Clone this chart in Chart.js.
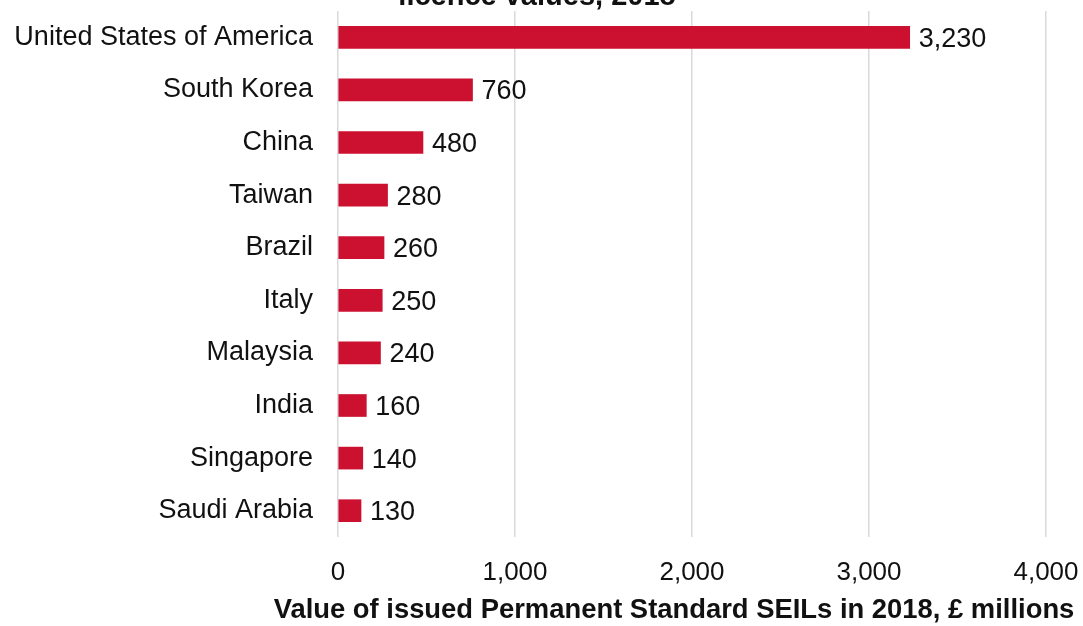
<!DOCTYPE html>
<html>
<head>
<meta charset="utf-8">
<script src="https://cdn.jsdelivr.net/npm/chart.js@4"></script>
<style>
  html, body { margin: 0; padding: 0; background: #fff; }
  #wrap { width: 1083px; height: 626px; }
</style>
</head>
<body>
<div id="wrap"><canvas id="myChart"></canvas></div>
<script>
// countries, top to bottom
const countries = ['United States of America', 'South Korea', 'China', 'Taiwan', 'Brazil',
  'Italy', 'Malaysia', 'India', 'Singapore', 'Saudi Arabia'];
// value of issued licences, £ millions
const values = [3230, 760, 480, 280, 260, 250, 240, 160, 140, 130];
const xTicks = [0, 1000, 2000, 3000, 4000];

const axisTitle = 'Value of issued Permanent Standard SEILs in 2018, £ millions';
const topTitle = 'licence values, 2018';

const FONT = '"Liberation Sans", Arial, sans-serif';
const fmt = (v) => v.toLocaleString('en-US');

//draws the number at the end of each bar
const valueLabels = {
  id: 'valueLabels',
  afterDatasetsDraw(chart) {
    const {ctx} = chart;
    ctx.save();
    ctx.font = '27px ' + FONT;
    ctx.fillStyle = '#111';
    ctx.textAlign = 'left';
    ctx.textBaseline = 'middle';
    chart.getDatasetMeta(0).data.forEach((bar, i) => {
      ctx.fillText(fmt(values[i]), bar.x + 9, bar.y + 2);
    });
    ctx.restore();
  }
};

//the cut-off chart title at the very top and the x axis title
const titles = {
  id: 'titles',
  afterDraw(chart) {
    const {ctx} = chart;
    ctx.save();
    ctx.fillStyle = '#111';
    ctx.textAlign = 'center';
    ctx.textBaseline = 'alphabetic';
    ctx.font = 'bold 29px ' + FONT;
    ctx.fillText(topTitle, 537, 5);
    ctx.textBaseline = 'middle';
    ctx.font = 'bold 27.4px ' + FONT;
    ctx.fillText(axisTitle, 674, 610);
    ctx.restore();
  }
};

const data = {
  labels: countries,
  datasets: [{
    data: values,
    backgroundColor: '#CC1030',
    borderWidth: 0,
    barThickness: 22
  }]
};

const config = {
  type: 'bar',
  data,
  options: {
    indexAxis: 'y',
    responsive: true,
    maintainAspectRatio: false,
    animation: false,
    layout: { padding: { top: 11, right: 37, left: 0, bottom: 0 } },
    plugins: {
      legend: { display: false },
      tooltip: { enabled: false }
    },
    scales: {
      x: {
        min: 0,
        max: 4000,
        afterBuildTicks(axis) { axis.ticks = xTicks.map(v => ({value: v})); },
        afterFit(axis) {
          axis.height = 89;
          axis.paddingLeft = 0;
          axis.paddingRight = 0;
        },
        grid: { color: '#d9d9d9', lineWidth: 1.5, drawTicks: false },
        border: { display: false },
        ticks: {
          padding: 20,
          color: '#111',
          font: { family: FONT, size: 26 },
          callback: (v) => fmt(v)
        }
      },
      y: {
        afterFit(axis) {
          axis.width = 338;
          axis.paddingTop = 0;
          axis.paddingBottom = 0;
        },
        grid: { display: false, drawTicks: false },
        border: { display: false },
        ticks: {
          padding: 25,
          color: '#111',
          font: { family: FONT, size: 27 }
        }
      }
    }
  },
  plugins: [valueLabels, titles]
};

let myChart = document.getElementById('myChart').getContext('2d');
new Chart(myChart, config);
</script>
</body>
</html>
